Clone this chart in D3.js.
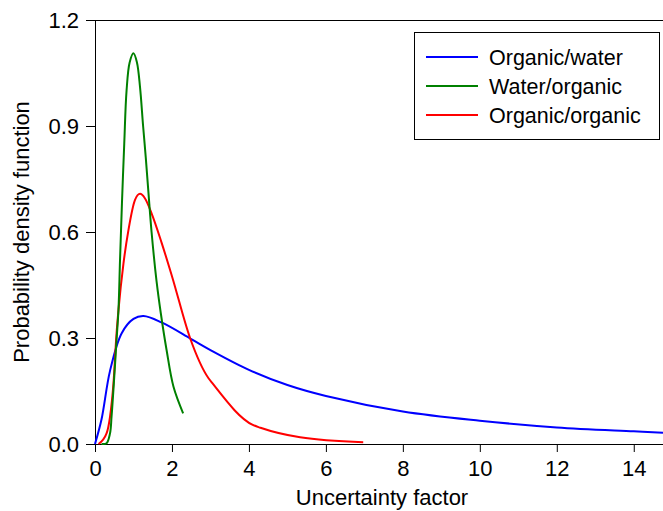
<!DOCTYPE html>
<html>
<head>
<meta charset="utf-8">
<script src="https://cdn.jsdelivr.net/npm/d3@7"></script>
<style>
  body { margin: 0; background: #fff; }
  svg text { font-family: "Liberation Sans", Arial, Helvetica, sans-serif; fill: #000; }
  .axis path, .axis line { stroke: #000; stroke-width: 1px; }
</style>
</head>
<body>
<div id="chart"></div>
<script>
// series values (x = uncertainty factor, y = density)
var organicWaterX = [0, 0.17, 0.39, 0.69, 1.0, 1.26, 1.73, 2.5, 3.0, 4.0, 5.0, 6, 8, 10, 12, 14, 14.76];
var organicWaterY = [0, 0.070, 0.207, 0.313, 0.354, 0.362, 0.344, 0.297, 0.266, 0.210, 0.167, 0.136, 0.092, 0.066, 0.047, 0.036, 0.032];

var waterOrganicX = [0.17, 0.30, 0.39, 0.43, 0.49, 0.56, 0.61, 0.65, 0.70, 0.76, 0.82, 0.90, 1.0, 1.09, 1.17, 1.25, 1.32, 1.39, 1.47, 1.60, 1.71, 1.86, 2.04, 2.29];
var waterOrganicY = [0, 0.002, 0.030, 0.077, 0.172, 0.294, 0.38, 0.52, 0.68, 0.85, 1.0, 1.08, 1.106, 1.08, 1.01, 0.90, 0.81, 0.71, 0.60, 0.46, 0.37, 0.266, 0.162, 0.087];

var organicOrganicX = [0.09, 0.30, 0.39, 0.48, 0.56, 0.61, 0.74, 0.87, 1.04, 1.17, 1.30, 1.47, 1.73, 2.0, 2.47, 2.95, 3.05, 4.1, 4.3, 5.33, 6.97];
var organicOrganicY = [0, 0.030, 0.077, 0.172, 0.313, 0.379, 0.511, 0.606, 0.691, 0.708, 0.695, 0.653, 0.570, 0.475, 0.300, 0.186, 0.172, 0.054, 0.046, 0.019, 0.005];

var seriesNames = ["Organic/water", "Water/organic", "Organic/organic"];
var seriesColors = ["#0000ff", "#008000", "#ff0000"];
var xTicks = [0, 2, 4, 6, 8, 10, 12, 14];
var yTicks = [0, 0.3, 0.6, 0.9, 1.2];

var margin = {top: 20, right: 0, bottom: 67, left: 95},
    width = 663 - margin.left - margin.right,
    height = 511 - margin.top - margin.bottom;

var svg = d3.select("#chart").append("svg")
    .attr("width", 663)
    .attr("height", 511);

var g = svg.append("g")
    .attr("transform", "translate(" + margin.left + "," + margin.top + ")");

var x = d3.scaleLinear().domain([0, 14.76]).range([0, width]),
    y = d3.scaleLinear().domain([0, 1.2]).range([height, 0]);

// top frame line
g.append("line")
    .attr("x1", 0).attr("x2", width)
    .attr("y1", 0.5).attr("y2", 0.5)
    .attr("stroke", "#000");

g.append("g")
    .attr("class", "axis")
    .call(d3.axisLeft(y).tickValues(yTicks).tickFormat(d3.format(".1f"))
        .tickSize(9).tickSizeOuter(0).tickPadding(7))
    .selectAll("text").style("font-size", "22px");

g.append("g")
    .attr("class", "axis")
    .attr("transform", "translate(0," + height + ")")
    .call(d3.axisBottom(x).tickValues(xTicks).tickFormat(d3.format("d"))
        .tickSize(8).tickSizeOuter(0).tickPadding(8))
    .selectAll("text").style("font-size", "22px");

g.selectAll(".axis text").attr("font-family", null);

var series = [
    {xs: organicWaterX, ys: organicWaterY, curve: d3.curveCatmullRom.alpha(0.5)},
    {xs: waterOrganicX, ys: waterOrganicY, curve: d3.curveCatmullRom.alpha(0.5)},
    {xs: organicOrganicX, ys: organicOrganicY, curve: d3.curveMonotoneX}
];

[0, 2, 1].forEach(function (i) {
    var line = d3.line()
        .x(function (d) { return x(d[0]); })
        .y(function (d) { return y(d[1]); })
        .curve(series[i].curve);
    g.append("path")
        .datum(d3.zip(series[i].xs, series[i].ys))
        .attr("fill", "none")
        .attr("stroke", seriesColors[i])
        .attr("stroke-width", 2)
        .attr("d", line);
});

// axis titles
svg.append("text")
    .attr("x", 382)
    .attr("y", 505)
    .attr("text-anchor", "middle")
    .style("font-size", "22px")
    .text("Uncertainty factor");

svg.append("text")
    .attr("transform", "translate(21," + (margin.top + height / 2) + ")rotate(-90)")
    .attr("dy", "0.35em")
    .attr("text-anchor", "middle")
    .style("font-size", "22px")
    .text("Probability density function");

// legend
var legend = svg.append("g");
legend.append("rect")
    .attr("x", 414.5).attr("y", 32.5)
    .attr("width", 245).attr("height", 107)
    .attr("fill", "#fff")
    .attr("stroke", "#000");

var item = legend.selectAll(".item")
    .data(seriesNames)
    .enter().append("g")
    .attr("class", "item")
    .attr("transform", function (d, i) { return "translate(0," + (57 + i * 29) + ")"; });

item.append("line")
    .attr("x1", 426).attr("x2", 478)
    .attr("stroke", function (d, i) { return seriesColors[i]; })
    .attr("stroke-width", 2);

item.append("text")
    .attr("x", 489)
    .attr("dy", "0.35em")
    .style("font-size", "21.5px")
    .text(function (d) { return d; });
</script>
</body>
</html>
